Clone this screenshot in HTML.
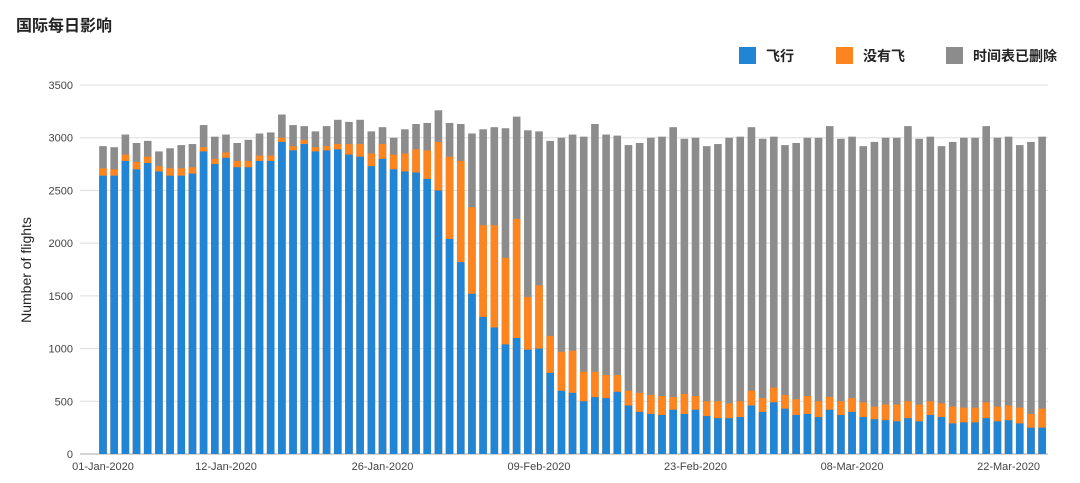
<!DOCTYPE html>
<html><head><meta charset="utf-8"><style>
body{margin:0;background:#fff;width:1080px;height:478px;overflow:hidden}
svg text{font-family:"Liberation Sans","Noto Sans CJK SC",sans-serif}
</style></head><body>
<svg id="c" width="1080" height="478" xmlns="http://www.w3.org/2000/svg">
<text x="16" y="31" font-size="16" font-weight="bold" fill="#222">国际每日影响</text>
<rect x="739" y="47" width="17" height="17" fill="#2185d5"/><text x="766" y="61" font-size="14" font-weight="bold" fill="#222">飞行</text>
<rect x="836" y="47" width="17" height="17" fill="#fd8520"/><text x="863" y="61" font-size="14" font-weight="bold" fill="#222">没有飞</text>
<rect x="946" y="47" width="17" height="17" fill="#8c8c8c"/><text x="973" y="61" font-size="14" font-weight="bold" fill="#222">时间表已删除</text>
<text transform="translate(31,270) rotate(-90)" font-size="14" text-anchor="middle" fill="#222">Number of flights</text>
<g id="g"></g>
</svg>
<script>
var B=[2640,2640,2780,2700,2760,2680,2640,2640,2660,2870,2750,2810,2720,2720,2780,2780,2960,2880,2940,2870,2880,2890,2840,2820,2730,2800,2700,2680,2670,2610,2500,2040,1820,1520,1300,1200,1040,1100,990,1000,770,600,580,500,540,530,590,460,400,380,370,420,380,420,360,340,340,350,460,400,490,430,370,380,350,420,370,400,350,330,320,310,340,310,370,350,290,300,300,340,310,320,290,250,250];
var O=[70,60,60,70,60,50,70,70,60,40,50,50,60,60,50,50,40,40,40,40,40,50,100,120,120,140,140,170,220,270,460,780,960,820,870,970,820,1130,500,600,350,370,400,280,240,220,160,140,180,180,180,120,190,130,140,160,140,150,140,130,140,130,150,170,150,120,130,130,140,120,150,160,160,160,130,130,160,140,140,150,140,140,150,130,180];
var T=[2920,2910,3030,2950,2970,2870,2900,2930,2940,3120,3010,3030,2950,2980,3040,3050,3220,3120,3110,3060,3110,3170,3150,3170,3060,3100,3000,3080,3130,3140,3260,3140,3130,3040,3080,3100,3090,3200,3070,3060,2970,3000,3030,3010,3130,3030,3020,2930,2950,3000,3010,3100,2990,3000,2920,2940,3000,3010,3100,2990,3010,2930,2950,3000,3000,3110,2990,3010,2920,2960,3000,3000,3110,2990,3010,2920,2960,3000,3000,3110,3000,3010,2930,2960,3010];
var y0=454,k=(454-85)/3500,s='';
function Y(v){return y0-v*k}
for(var v=0;v<=3500;v+=500){s+='<line x1="80" x2="1048" y1="'+Y(v)+'" y2="'+Y(v)+'" stroke="'+(v?'#ddd':'#aaa')+'"/>';
s+='<text x="73" y="'+(Y(v)+4)+'" font-size="11" text-anchor="end" fill="#444">'+v+'</text>';}
for(var i=0;i<85;i++){var x=103+i*11.18-3.8;
s+='<rect x="'+x+'" y="'+Y(T[i])+'" width="7.6" height="'+(T[i]*k)+'" fill="#8c8c8c"/>';
s+='<rect x="'+x+'" y="'+Y(B[i]+O[i])+'" width="7.6" height="'+((B[i]+O[i])*k)+'" fill="#fd8520"/>';
s+='<rect x="'+x+'" y="'+Y(B[i])+'" width="7.6" height="'+(B[i]*k)+'" fill="#2185d5"/>';}
var L=[[0,'01-Jan-2020'],[11,'12-Jan-2020'],[25,'26-Jan-2020'],[39,'09-Feb-2020'],[53,'23-Feb-2020'],[67,'08-Mar-2020'],[81,'22-Mar-2020']];
L.forEach(function(l){s+='<text x="'+(103+l[0]*11.18)+'" y="470" font-size="11" text-anchor="middle" fill="#444">'+l[1]+'</text>';});
document.getElementById('g').innerHTML=s;
</script>
</body></html>
